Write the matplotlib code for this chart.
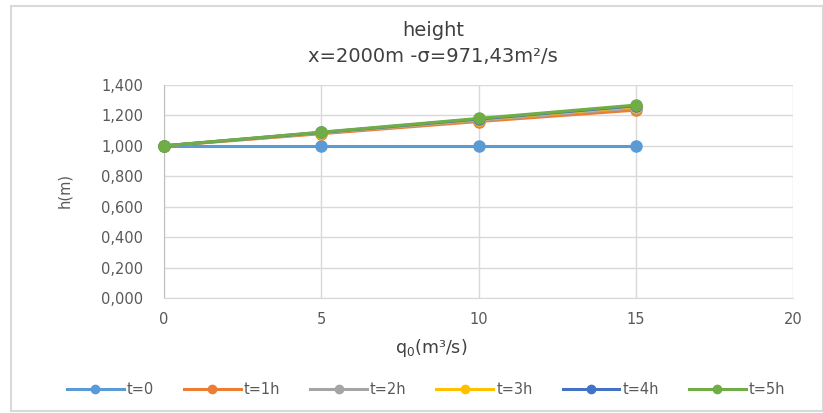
import matplotlib
matplotlib.use("Agg")
import matplotlib.pyplot as plt
from matplotlib.ticker import FuncFormatter, MultipleLocator
from matplotlib.patches import Rectangle

q0 = [0, 5, 10, 15]
series_names = ["t=0", "t=1h", "t=2h", "t=3h", "t=4h", "t=5h"]
h_t0 = [1.000, 1.000, 1.000, 1.000]
h_t1 = [1.000, 1.080, 1.160, 1.235]
h_t2 = [1.000, 1.085, 1.168, 1.250]
h_t3 = [1.000, 1.087, 1.173, 1.258]
h_t4 = [1.000, 1.088, 1.176, 1.263]
h_t5 = [1.000, 1.090, 1.180, 1.268]
series_values = [h_t0, h_t1, h_t2, h_t3, h_t4, h_t5]
colors = ["#5B9BD5", "#ED7D31", "#A5A5A5", "#FFC000", "#4472C4", "#70AD47"]

W, H = 823, 413
fig = plt.figure(figsize=(W / 100, H / 100), dpi=100)
fig.patch.set_facecolor("white")

def fx(px):
    return px / W

def fy(py):
    return 1 - py / H

# outer chart frame
fig.add_artist(Rectangle((fx(11), fy(411)), (W - 11) / W, 405 / H,
                         transform=fig.transFigure, fill=False,
                         edgecolor="#D9D9D9", linewidth=1.5))

ax = fig.add_axes([fx(164), fy(298), (793 - 164) / W, (298 - 85) / H])

for name, vals, c in zip(series_names, series_values, colors):
    ax.plot(q0, vals, color=c, linewidth=2.2, marker="o", markersize=8,
            label=name, clip_on=False, zorder=3)

ax.set_xlim(0, 20)
ax.set_ylim(0, 1.4)
ax.xaxis.set_major_locator(MultipleLocator(5))
ax.yaxis.set_major_locator(MultipleLocator(0.2))
ax.yaxis.set_major_formatter(
    FuncFormatter(lambda v, p: f"{v:,.3f}".replace(".", ",")))

ax.grid(True, color="#D9D9D9", linewidth=1)
ax.set_axisbelow(True)
for s in ["top", "right"]:
    ax.spines[s].set_visible(False)
ax.spines["left"].set_color("#BFBFBF")
ax.spines["bottom"].set_color("#D9D9D9")
ax.tick_params(axis="both", length=0, labelsize=10.5, colors="#595959")
ax.tick_params(axis="y", pad=15)
ax.tick_params(axis="x", pad=10)

title_x = fx(433)
fig.text(title_x, fy(30), "height", ha="center", va="center",
         fontsize=14, color="#404040")
fig.text(title_x, fy(56), "x=2000m -σ=971,43m²/s", ha="center",
         va="center", fontsize=14, color="#404040")

fig.text(fx(431), fy(348), "q$_0$(m³/s)", ha="center", va="center",
         fontsize=12.5, color="#404040")
fig.text(fx(65), fy(191), "h(m)", ha="center", va="center",
         rotation=90, fontsize=10.5, color="#595959")

leg = fig.legend(loc="center", bbox_to_anchor=(fx(426), fy(390)), ncol=6,
                 frameon=False, fontsize=10.5, handlelength=3.9,
                 columnspacing=2.05, handletextpad=0.2, markerscale=0.75)
for t in leg.get_texts():
    t.set_color("#595959")

fig.savefig("out.png", dpi=100)
